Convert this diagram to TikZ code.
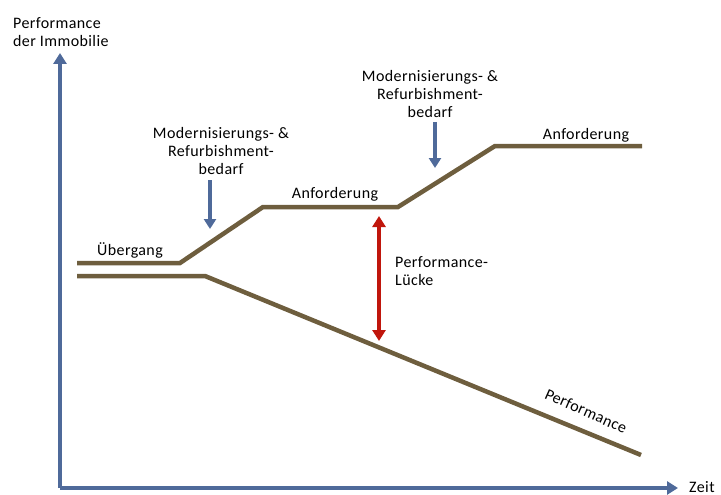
\documentclass[tikz,border=0pt]{standalone}
\usepackage{fontspec}
\setmainfont{Carlito}[LetterSpace=2.5]
\usetikzlibrary{arrows.meta}
\definecolor{axisblue}{HTML}{4F6A9A}
\definecolor{lineolive}{HTML}{6E5E3E}
\definecolor{gapred}{HTML}{C0160C}
\begin{document}
\begin{tikzpicture}[x=1pt,y=-1pt,
  lbl/.style={inner sep=0pt,font=\fontsize{16}{18}\selectfont,align=center},
  axis/.style={draw=axisblue,line width=4pt,-{Triangle[width=13pt,length=11pt]}},
  curve/.style={draw=lineolive,line width=4.5pt},
  hint/.style={draw=axisblue,line width=4pt,-{Triangle[width=12pt,length=10pt]}},
  gap/.style={draw=gapred,line width=4pt,{Triangle[width=13pt,length=11pt]}-{Triangle[width=13pt,length=11pt]}}]
\useasboundingbox (0,0) rectangle (721,495);
% axes
\coordinate (o) at (60,488);
\coordinate (ytop) at (60,53);
\coordinate (xend) at (678,488);
\draw[axis] (o) -- (ytop);
\draw[axis] (o) -- (xend);
% Anforderung line
\coordinate (a0) at (77,263);
\coordinate (a1) at (180,263);
\coordinate (a2) at (263,207);
\coordinate (a3) at (398,207);
\coordinate (a4) at (495,146);
\coordinate (a5) at (642,146);
\draw[curve] (a0) -- (a1) -- (a2) -- (a3) -- (a4) -- (a5);
% Performance line
\coordinate (p0) at (77,276);
\coordinate (p1) at (205,276);
\coordinate (p2) at (641,455);
\draw[curve] (p0) -- (p1) -- (p2);
% hint arrows
\coordinate (h1s) at (210,180);
\coordinate (h1e) at (210,229);
\draw[hint] (h1s) -- (h1e);
\coordinate (h2s) at (435,122);
\coordinate (h2e) at (435,168);
\draw[hint] (h2s) -- (h2e);
% gap arrow
\coordinate (g1) at (379,216);
\coordinate (g2) at (379,341);
\draw[gap] (g1) -- (g2);
% labels
\node[lbl,align=left,anchor=west] (ylab) at (13,32) {Performance\\der Immobilie};
\node[lbl] (mod1) at (221,151) {Modernisierungs- \&\\Refurbishment-\\bedarf};
\node[lbl] (mod2) at (430,94) {Modernisierungs- \&\\Refurbishment-\\bedarf};
\node[lbl,anchor=west] (ueb) at (97,250) {Übergang};
\node[lbl] (anf1) at (335,194) {Anforderung};
\node[lbl] (anf2) at (586,135) {Anforderung};
\node[lbl,align=left,anchor=west] (luecke) at (395,271) {Performance-\\Lücke};
\node[lbl,rotate=-24] (perf) at (586,411) {Performance};
\node[lbl,anchor=west] (zeit) at (689,487) {Zeit};
\end{tikzpicture}
\end{document}
